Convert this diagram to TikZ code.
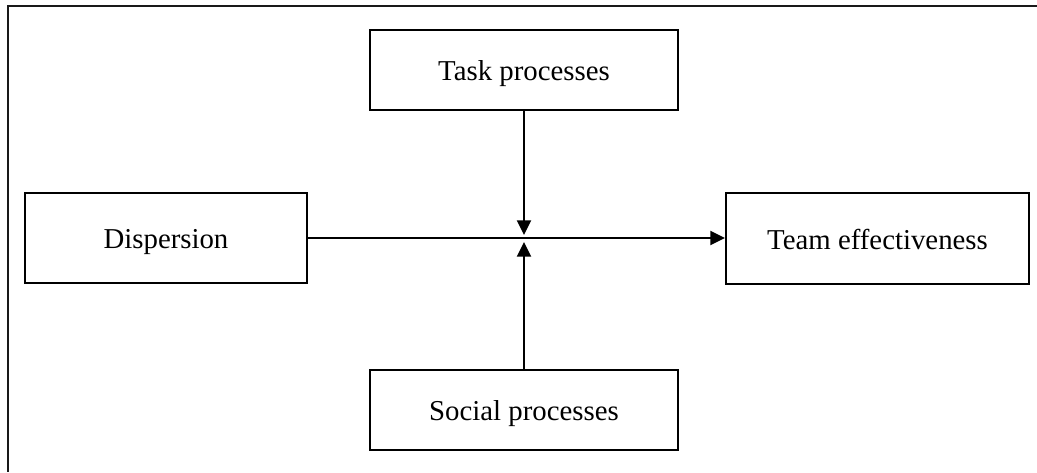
\documentclass[tikz,border=0pt]{standalone}
\usepackage{fontspec}
\setmainfont{Liberation Serif}
\usetikzlibrary{arrows.meta}
\begin{document}
\begin{tikzpicture}[x=0.75pt,y=-0.75pt,
  box/.style={draw,line width=1.5pt,inner sep=0pt,text height=16pt,text depth=0pt,font=\fontsize{21.6pt}{25pt}\selectfont},
  conn/.style={line width=1.5pt,-{Triangle[length=11pt,width=10.5pt]}},
  frameline/.style={line width=2.2pt,draw=black!90}]
\useasboundingbox (0,0) rectangle (1037,472);
\coordinate (ftr) at (1037,6);
\coordinate (ftl) at (8,6);
\coordinate (fbl) at (8,472);
\draw[frameline] (ftr) -- (ftl) -- (fbl);
\node[box,minimum width=211.5pt,minimum height=67.5pt] (disp) at (166,238) {Dispersion};
\node[box,minimum width=231pt,minimum height=60pt] (task) at (524,70) {Task processes};
\node[box,minimum width=231pt,minimum height=60pt] (social) at (524,410) {Social processes};
\node[box,minimum width=227.25pt,minimum height=68.25pt] (team) at (877.5,238.5) {Team effectiveness};
\coordinate (tipdown) at (524,235);
\coordinate (tipup) at (524,242);
\draw[conn] (disp.east) -- (disp.east -| team.west);
\draw[conn] (task.south) -- (tipdown);
\draw[conn] (social.north) -- (tipup);
\end{tikzpicture}
\end{document}
